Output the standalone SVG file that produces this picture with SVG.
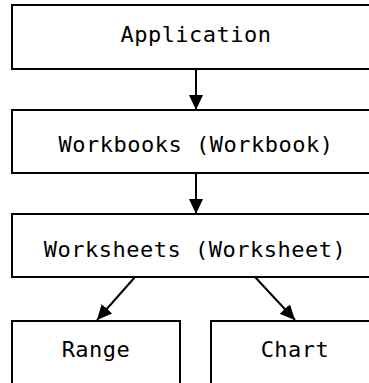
<svg xmlns="http://www.w3.org/2000/svg" width="369" height="383" viewBox="0 0 369 383">
  <style>
    .box { fill: #ffffff; stroke: #000000; stroke-width: 2; }
    .label { font-family: "DejaVu Sans Mono", monospace; font-size: 22px; letter-spacing: 0.5px; fill: #000000; text-anchor: middle; }
    .edge { stroke: #000000; stroke-width: 2; fill: none; marker-end: url(#head); }
  </style>
  <defs>
    <marker id="head" markerUnits="userSpaceOnUse" markerWidth="15" markerHeight="14" refX="15" refY="7" orient="auto">
      <path d="M0,0 L15,7 L0,14 Z" fill="#000000"/>
    </marker>
  </defs>
  <rect width="369" height="383" fill="#ffffff"/>

  <g id="application">
    <rect class="box" x="12" y="5" width="368" height="64"/>
    <text class="label" x="196" y="42">Application</text>
  </g>
  <g id="workbooks">
    <rect class="box" x="12" y="110" width="368" height="63"/>
    <text class="label" x="196" y="152">Workbooks (Workbook)</text>
  </g>
  <g id="worksheets">
    <rect class="box" x="12" y="214" width="368" height="63"/>
    <text class="label" x="195" y="257">Worksheets (Worksheet)</text>
  </g>
  <g id="range">
    <rect class="box" x="12" y="321" width="168" height="70"/>
    <text class="label" x="96" y="357">Range</text>
  </g>
  <g id="chart">
    <rect class="box" x="211" y="321" width="168" height="70"/>
    <text class="label" x="295" y="357">Chart</text>
  </g>

  <g id="connectors">
    <line class="edge" x1="196" y1="69" x2="196" y2="110"/>
    <line class="edge" x1="196" y1="173" x2="196" y2="214"/>
    <line class="edge" x1="135" y1="277" x2="97" y2="320"/>
    <line class="edge" x1="255" y1="277" x2="295" y2="320"/>
  </g>
</svg>
